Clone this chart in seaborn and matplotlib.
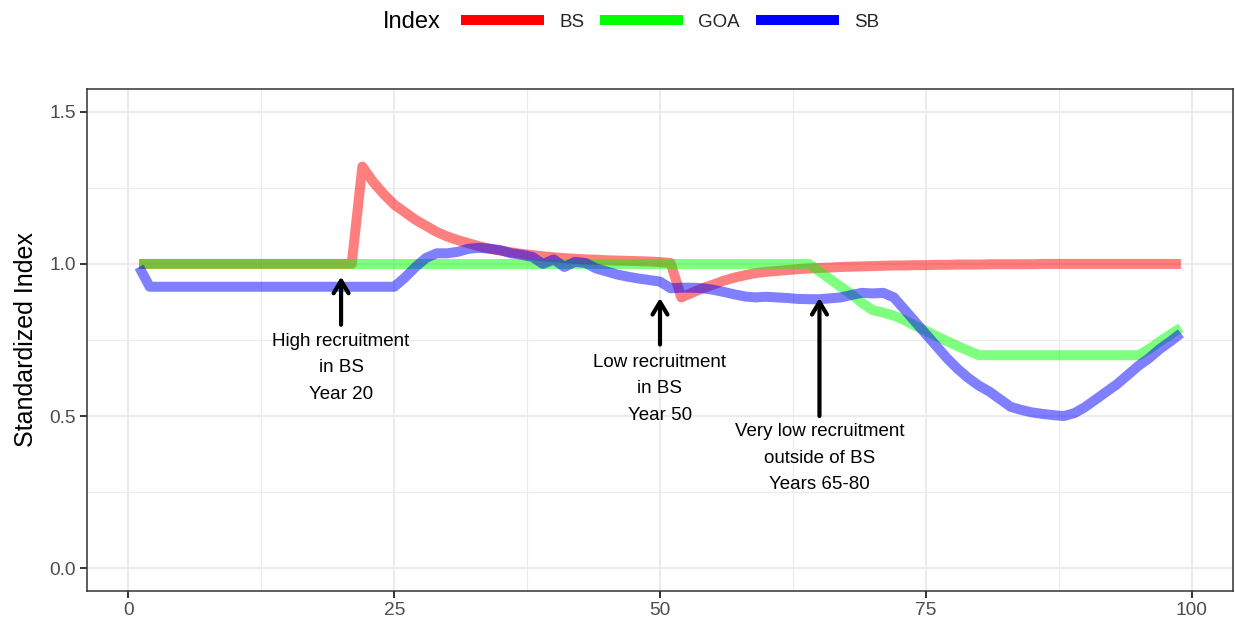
import matplotlib
matplotlib.use("Agg")
import matplotlib.pyplot as plt
from matplotlib.lines import Line2D
import pandas as pd
import seaborn as sns

years = list(range(1, 100))

bs = [1.0] * 21 + [
    1.32, 1.27, 1.23, 1.195, 1.17, 1.145, 1.125, 1.105, 1.09,          # 22-30
    1.078, 1.068, 1.058, 1.05, 1.044, 1.038, 1.033, 1.029, 1.025, 1.022,  # 31-40
    1.019, 1.017, 1.015, 1.014, 1.012, 1.011, 1.01, 1.009, 1.008, 1.006,  # 41-50
    1.003, 0.89, 0.905, 0.92, 0.932, 0.945, 0.955, 0.963, 0.97, 0.974,    # 51-60
    0.977, 0.98, 0.983, 0.985, 0.987, 0.988, 0.99, 0.991, 0.992, 0.993,   # 61-70
    0.994, 0.995, 0.995, 0.996, 0.996, 0.997, 0.997, 0.998, 0.998, 0.998, # 71-80
    0.999, 0.999, 0.999, 0.999, 0.999, 1.0, 1.0, 1.0, 1.0, 1.0,           # 81-90
    1.0, 1.0, 1.0, 1.0, 1.0, 1.0, 1.0, 1.0, 1.0,                          # 91-99
]

goa = [1.0] * 64 + [
    0.975, 0.95, 0.925, 0.9, 0.872, 0.848,                                # 65-70
    0.84, 0.83, 0.815, 0.797, 0.78, 0.763, 0.746, 0.73, 0.715, 0.70,      # 71-80
    0.70, 0.70, 0.70, 0.70, 0.70, 0.70, 0.70, 0.70, 0.70, 0.70,           # 81-90
    0.70, 0.70, 0.70, 0.70, 0.70, 0.72, 0.745, 0.768, 0.79,               # 91-99
]

sb = [0.99] + [0.925] * 24 + [
    0.955, 0.99, 1.02, 1.035, 1.035,                                      # 26-30
    1.04, 1.05, 1.053, 1.05, 1.045, 1.035, 1.03, 1.023, 1.0, 1.015,       # 31-40
    0.99, 1.007, 1.003, 0.985, 0.975, 0.965, 0.958, 0.952, 0.947, 0.942,  # 41-50
    0.92, 0.922, 0.922, 0.92, 0.915, 0.908, 0.9, 0.893, 0.89, 0.892,      # 51-60
    0.89, 0.888, 0.885, 0.884, 0.884, 0.887, 0.89, 0.898, 0.905, 0.903,   # 61-70
    0.905, 0.89, 0.85, 0.81, 0.77, 0.73, 0.69, 0.655, 0.625, 0.6,         # 71-80
    0.58, 0.555, 0.53, 0.52, 0.512, 0.507, 0.503, 0.5, 0.51, 0.53,        # 81-90
    0.555, 0.58, 0.605, 0.635, 0.665, 0.69, 0.72, 0.745, 0.772,           # 91-99
]

index_names = ["BS", "GOA", "SB"]
index_colors = ["#FF0000", "#00FF00", "#0000FF"]

notes = [
    "High recruitment\nin BS\nYear 20",
    "Low recruitment\nin BS\nYear 50",
    "Very low recruitment\noutside of BS\nYears 65-80",
]
note_x = [20, 50, 65]
note_text_y = [0.658, 0.590, 0.362]
arrow_tail = [0.80, 0.735, 0.50]
arrow_head = [0.958, 0.888, 0.888]


def main():
    df = pd.DataFrame({
        "Year": years * 3,
        "Value": bs + goa + sb,
        "Index": ["BS"] * 99 + ["GOA"] * 99 + ["SB"] * 99,
    })

    sns.set_theme(style="white")
    plt.rcParams["font.family"] = ["Liberation Sans", "DejaVu Sans"]

    fig = plt.figure(figsize=(12.35, 6.22), dpi=100)
    ax = fig.add_axes([87 / 1235, 31 / 622, 1146 / 1235, 502 / 622])

    sns.lineplot(
        data=df, x="Year", y="Value", hue="Index",
        palette=dict(zip(index_names, index_colors)),
        linewidth=7.2, alpha=0.5, legend=False, ax=ax,
        solid_capstyle="butt",
    )

    for label, x, ty, t0, t1 in zip(notes, note_x, note_text_y, arrow_tail, arrow_head):
        ax.annotate(
            "", xy=(x, t1), xytext=(x, t0),
            arrowprops=dict(arrowstyle="->,head_length=0.75,head_width=0.45",
                            lw=3, color="black", shrinkA=0, shrinkB=0),
        )
        ax.text(x, ty, label, ha="center", va="center", fontsize=13.5,
                linespacing=1.72, color="black")

    ax.set_xlim(-3.9, 103.9)
    ax.set_ylim(-0.075, 1.575)
    ax.set_xticks([0, 25, 50, 75, 100])
    ax.set_yticks([0.0, 0.5, 1.0, 1.5])
    ax.set_yticklabels(["0.0", "0.5", "1.0", "1.5"])
    ax.set_xticks([12.5, 37.5, 62.5, 87.5], minor=True)
    ax.set_yticks([0.25, 0.75, 1.25], minor=True)
    ax.grid(which="major", color="#EBEBEB", linewidth=1.5)
    ax.grid(which="minor", color="#EBEBEB", linewidth=0.8)
    ax.set_axisbelow(True)
    for s in ax.spines.values():
        s.set_color("#333333")
        s.set_linewidth(1.1)
    ax.tick_params(which="major", direction="out", length=5, width=1.4,
                   color="#333333", labelsize=13.8, labelcolor="#4D4D4D", pad=3,
                   bottom=True, left=True)
    ax.tick_params(which="minor", length=0)
    ax.set_xlabel("")
    ax.set_ylabel("Standardized Index", fontsize=18, color="black", labelpad=8)

    # legend across the top, title on the left
    fig.text(383 / 1235, 1 - 22 / 622, "Index", ha="left", va="center",
             fontsize=17, color="black")
    handles = [Line2D([], [], color=c, linewidth=7.2, solid_capstyle="butt")
               for c in index_colors]
    fig.legend(handles, index_names, loc="center left",
               bbox_to_anchor=(461 / 1235, 1 - 22 / 622), ncol=3, frameon=False,
               fontsize=13.5, handlelength=4.43, handletextpad=0.8,
               columnspacing=0.85, borderpad=0, borderaxespad=0)

    fig.savefig("out.png", dpi=100)


if __name__ == "__main__":
    main()
